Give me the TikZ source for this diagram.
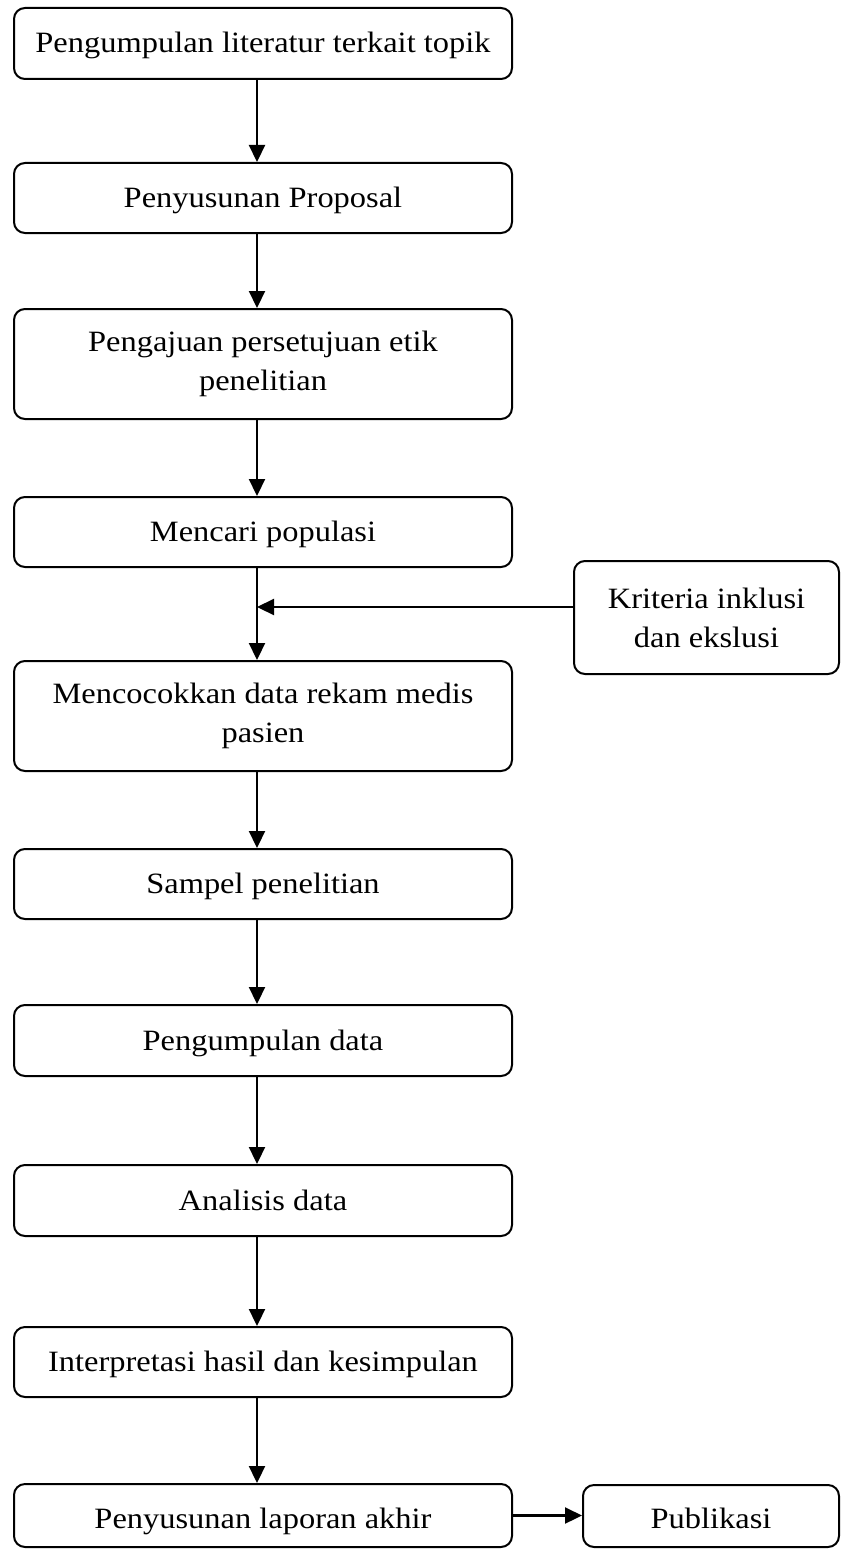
\documentclass[tikz,border=0pt]{standalone}
\usepackage{fontspec}
\setmainfont{Liberation Serif}[FakeStretch=1.1]
\usetikzlibrary{arrows.meta}
\begin{document}
\begin{tikzpicture}[x=1pt,y=-1pt,
  stepbox/.style={draw, line width=2pt, rounded corners=11pt, align=center,
    inner sep=0pt, font=\fontsize{29.5}{39}\selectfont},
  mainbox/.style={stepbox, minimum width=498pt},
  oneline/.style={text height=24pt, text depth=5pt},
  lowline/.style={text height=30pt, text depth=5pt},
  flow/.style={line width=2.2pt, -{Triangle[length=17pt,width=16pt]}}]
\useasboundingbox (0,0) rectangle (842,1549);

% main column
\node[mainbox, oneline, minimum height=71pt]  (b1)  at (263,43.5)   {Pengumpulan literatur terkait topik};
\node[mainbox, oneline, minimum height=70pt]  (b2)  at (263,198)    {Penyusunan Proposal};
\node[mainbox, minimum height=110pt]          (b3)  at (263,364)    {Pengajuan persetujuan etik\\penelitian};
\node[mainbox, oneline, minimum height=70pt]  (b4)  at (263,532)    {Mencari populasi};
\node[mainbox, minimum height=110pt]          (b5)  at (263,716)    {Mencocokkan data rekam medis\\pasien};
\node[mainbox, oneline, minimum height=70pt]  (b6)  at (263,884)    {Sampel penelitian};
\node[mainbox, oneline, minimum height=71pt]  (b7)  at (263,1040.5) {Pengumpulan data};
\node[mainbox, oneline, minimum height=71pt]  (b8)  at (263,1200.5) {Analisis data};
\node[mainbox, oneline, minimum height=70pt]  (b9)  at (263,1362)   {Interpretasi hasil dan kesimpulan};
\node[mainbox, lowline, minimum height=63pt]  (b10) at (263,1515.5) {Penyusunan laporan akhir};

% side boxes
\node[stepbox, minimum width=265pt, minimum height=113pt] (kri) at (706.5,617.5) {Kriteria inklusi\\dan ekslusi};
\node[stepbox, lowline, minimum width=256pt, minimum height=62pt] (pub) at (711,1516) {Publikasi};

% vertical flow
\foreach \a/\b in {b1/b2, b2/b3, b3/b4, b4/b5, b5/b6, b6/b7, b7/b8, b8/b9, b9/b10}
  \draw[flow] ([xshift=-6pt]\a.south) -- ([xshift=-6pt]\b.north);

% criteria join the trunk between b4 and b5
\coordinate (trunk) at ([xshift=-6pt]b4.south);
\draw[flow] ([yshift=10.5pt]kri.west) -- ([yshift=10.5pt]kri.west -| trunk);

% report to publication
\draw[flow] (b10.east) -- (b10.east -| pub.west);
\end{tikzpicture}
\end{document}
